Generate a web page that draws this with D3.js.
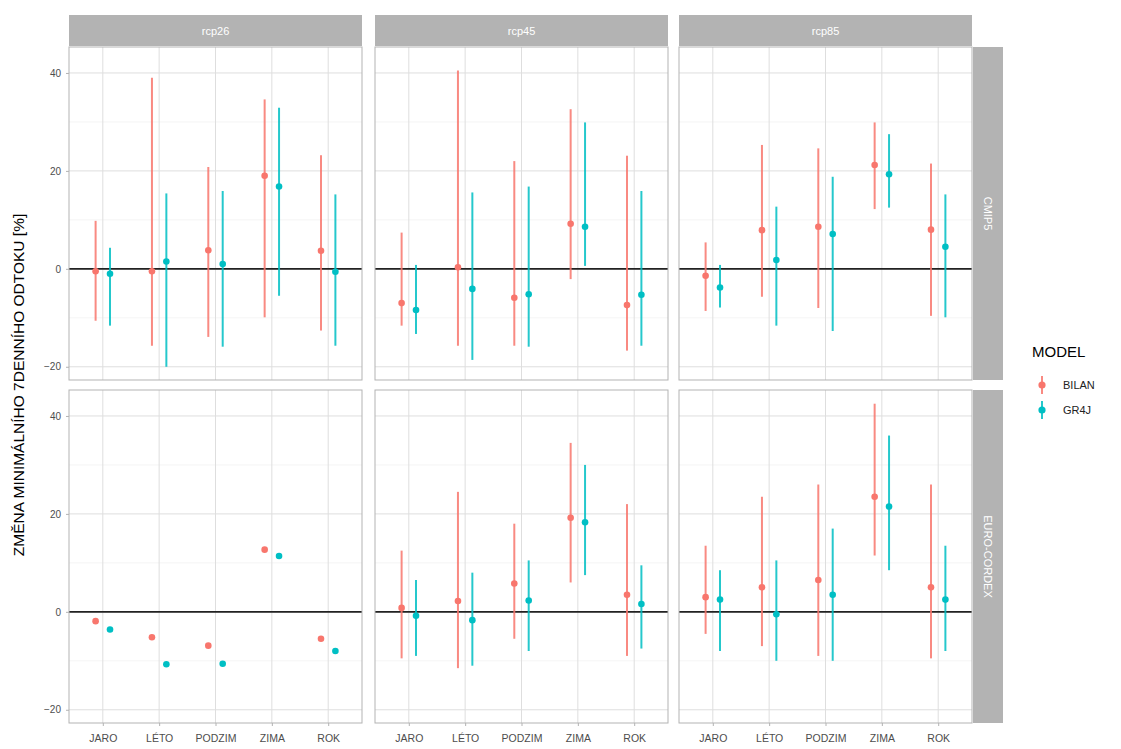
<!DOCTYPE html>
<html>
<head>
<meta charset="utf-8">
<script src="https://cdn.jsdelivr.net/npm/d3@7"></script>
<style>
  body { margin: 0; background: #fff; }
  text { font-family: "Liberation Sans", Arial, sans-serif; }
</style>
</head>
<body>
<svg id="canvas" width="1121" height="749"></svg>
<script>
// ---------------------------------------------------------------- data
var seasons = ["JARO", "LÉTO", "PODZIM", "ZIMA", "ROK"];
var scenarios = ["rcp26", "rcp45", "rcp85"];
var periods = ["CMIP5", "EURO-CORDEX"];
var models = ["BILAN", "GR4J"];
var model_colors = ["#F8766D", "#00BFC4"];
var y_ticks = [-20, 0, 20, 40];

// rows = period, cols = scenario, then model; each array follows seasons
var mid_vals = {
  "CMIP5": {
    rcp26: { BILAN: [-0.5, -0.5, 3.8, 19.0, 3.7], GR4J: [-1.0, 1.5, 1.0, 16.8, -0.6] },
    rcp45: { BILAN: [-7.0, 0.3, -5.9, 9.2, -7.4], GR4J: [-8.4, -4.1, -5.2, 8.6, -5.3] },
    rcp85: { BILAN: [-1.4, 7.9, 8.6, 21.2, 8.0], GR4J: [-3.8, 1.8, 7.1, 19.3, 4.5] }
  },
  "EURO-CORDEX": {
    rcp26: { BILAN: [-1.9, -5.2, -6.9, 12.7, -5.5], GR4J: [-3.6, -10.7, -10.6, 11.4, -8.0] },
    rcp45: { BILAN: [0.8, 2.2, 5.8, 19.2, 3.5], GR4J: [-0.8, -1.7, 2.3, 18.3, 1.6] },
    rcp85: { BILAN: [3.0, 5.0, 6.5, 23.5, 5.0], GR4J: [2.5, -0.5, 3.5, 21.5, 2.5] }
  }
};
var low_vals = {
  "CMIP5": {
    rcp26: { BILAN: [-10.6, -15.7, -13.9, -9.9, -12.6], GR4J: [-11.6, -20.0, -15.9, -5.5, -15.7] },
    rcp45: { BILAN: [-11.6, -15.7, -15.7, -2.1, -16.7], GR4J: [-13.3, -18.6, -15.9, 0.6, -15.7] },
    rcp85: { BILAN: [-8.6, -5.7, -8.0, 12.2, -9.6], GR4J: [-7.9, -11.6, -12.7, 12.5, -9.9] }
  },
  "EURO-CORDEX": {
    rcp26: { BILAN: [null, null, null, null, null], GR4J: [null, null, null, null, null] },
    rcp45: { BILAN: [-9.5, -11.5, -5.5, 6.0, -9.0], GR4J: [-9.0, -11.0, -8.0, 7.5, -7.5] },
    rcp85: { BILAN: [-4.5, -7.0, -9.0, 11.5, -9.5], GR4J: [-8.0, -10.0, -10.0, 8.5, -8.0] }
  }
};
var high_vals = {
  "CMIP5": {
    rcp26: { BILAN: [9.8, 39.0, 20.8, 34.6, 23.2], GR4J: [4.3, 15.4, 15.9, 32.9, 15.2] },
    rcp45: { BILAN: [7.4, 40.5, 22.0, 32.6, 23.1], GR4J: [0.8, 15.6, 16.8, 29.9, 15.9] },
    rcp85: { BILAN: [5.4, 25.3, 24.6, 29.9, 21.5], GR4J: [0.8, 12.7, 18.8, 27.5, 15.2] }
  },
  "EURO-CORDEX": {
    rcp26: { BILAN: [null, null, null, null, null], GR4J: [null, null, null, null, null] },
    rcp45: { BILAN: [12.5, 24.5, 18.0, 34.5, 22.0], GR4J: [6.5, 8.0, 10.5, 30.0, 9.5] },
    rcp85: { BILAN: [13.5, 23.5, 26.0, 42.5, 26.0], GR4J: [8.5, 10.5, 17.0, 36.0, 13.5] }
  }
};

// ---------------------------------------------------------------- layout
var svg = d3.select('#canvas');
var col_x = [69, 375, 679], panel_w = 293;
var row_y = [47, 390], panel_h = 333;
var strip_h = 32, rstrip_w = 30;
var font = '"Liberation Sans", Arial, sans-serif';

// discrete scale: 0.6 units expansion each side
var xScale = d3.scalePoint().domain(seasons).range([0, panel_w]).padding(0.6);
var yScale = d3.scaleLinear().domain([-22.7, 45.3]).range([panel_h, 0]);
var dodge = d3.scaleOrdinal().domain(models).range([-7.2, 7.2]);
var color = d3.scaleOrdinal().domain(models).range(model_colors);

// strips on top
scenarios.forEach((s, c) => {
  var g = svg.append('g').attr('transform', 'translate(' + col_x[c] + ',' + (row_y[0] - strip_h) + ')');
  g.append('rect').attr('width', panel_w).attr('height', strip_h - 1).attr('fill', '#B3B3B3');
  g.append('text').attr('x', panel_w / 2).attr('y', strip_h / 2 + 4).attr('text-anchor', 'middle')
    .attr('fill', '#fff').attr('font-size', 11).text(s);
});

periods.forEach((p, r) => {
  // right strip
  var gs = svg.append('g').attr('transform', 'translate(' + (col_x[2] + panel_w + 1) + ',' + row_y[r] + ')');
  gs.append('rect').attr('width', rstrip_w).attr('height', panel_h).attr('fill', '#B3B3B3');
  gs.append('text').attr('transform', 'translate(' + (rstrip_w / 2 - 4) + ',' + (panel_h / 2) + ') rotate(90)')
    .attr('text-anchor', 'middle').attr('fill', '#fff').attr('font-size', 11).text(p);

  scenarios.forEach((s, c) => {
    var g = svg.append('g').attr('transform', 'translate(' + col_x[c] + ',' + row_y[r] + ')');

    // minor grid
    [-10, 10, 30].forEach(v => {
      g.append('line').attr('x1', 0).attr('x2', panel_w).attr('y1', yScale(v)).attr('y2', yScale(v))
        .attr('stroke', '#EBEBEB').attr('stroke-width', 0.5);
    });
    // major grid
    y_ticks.forEach(v => {
      g.append('line').attr('x1', 0).attr('x2', panel_w).attr('y1', yScale(v)).attr('y2', yScale(v))
        .attr('stroke', '#DEDEDE').attr('stroke-width', 1);
    });
    seasons.forEach(k => {
      g.append('line').attr('x1', xScale(k)).attr('x2', xScale(k)).attr('y1', 0).attr('y2', panel_h)
        .attr('stroke', '#DEDEDE').attr('stroke-width', 1);
    });

    // zero line
    g.append('line').attr('x1', 0).attr('x2', panel_w).attr('y1', yScale(0)).attr('y2', yScale(0))
      .attr('stroke', '#222').attr('stroke-width', 1.6);

    // pointranges
    models.forEach(m => {
      var pts = seasons.map((k, i) => ({
        x: xScale(k) + dodge(m),
        mid: mid_vals[p][s][m][i],
        lo: low_vals[p][s][m][i],
        hi: high_vals[p][s][m][i]
      }));
      pts.filter(d => d.lo !== null).forEach(d => {
        g.append('line').attr('x1', d.x).attr('x2', d.x).attr('y1', yScale(d.lo)).attr('y2', yScale(d.hi))
          .attr('stroke', color(m)).attr('stroke-width', 2).attr('opacity', 0.85);
      });
      pts.forEach(d => {
        g.append('circle').attr('cx', d.x).attr('cy', yScale(d.mid)).attr('r', 3.3).attr('fill', color(m));
      });
    });

    // border
    g.append('rect').attr('width', panel_w).attr('height', panel_h).attr('fill', 'none')
      .attr('stroke', '#B3B3B3').attr('stroke-width', 1);

    // y axis on first column
    if (c === 0) {
      var ya = g.append('g').call(d3.axisLeft(yScale).tickValues(y_ticks).tickSize(3).tickPadding(5));
      ya.select('.domain').remove();
      ya.selectAll('line').attr('stroke', '#B3B3B3');
      ya.selectAll('text').attr('fill', '#4D4D4D').attr('font-size', 10).style('font-family', font);
    }
    // x axis on bottom row
    if (r === 1) {
      var xa = g.append('g').attr('transform', 'translate(0,' + panel_h + ')')
        .call(d3.axisBottom(xScale).tickSize(3).tickPadding(9));
      xa.select('.domain').remove();
      xa.selectAll('line').attr('stroke', '#B3B3B3');
      xa.selectAll('text').attr('fill', '#4D4D4D').attr('font-size', 10.5).style('font-family', font);
    }
  });
});

// y title
svg.append('text').attr('transform', 'translate(24,' + ((row_y[0] + row_y[1] + panel_h) / 2) + ') rotate(-90)')
  .attr('text-anchor', 'middle').attr('font-size', 15.5).attr('fill', '#000')
  .text('ZMĚNA MINIMÁLNÍHO 7DENNÍHO ODTOKU [%]');

// legend
var leg = svg.append('g').attr('transform', 'translate(1032,352)');
leg.append('text').attr('x', 0).attr('y', 5).attr('font-size', 15).attr('fill', '#000').text('MODEL');
models.forEach((m, i) => {
  var ky = 33 + i * 25;
  leg.append('line').attr('x1', 10).attr('x2', 10).attr('y1', ky - 9).attr('y2', ky + 9)
    .attr('stroke', color(m)).attr('stroke-width', 2).attr('opacity', 0.85);
  leg.append('circle').attr('cx', 10).attr('cy', ky).attr('r', 3.6).attr('fill', color(m));
  leg.append('text').attr('x', 31).attr('y', ky + 4).attr('font-size', 11).attr('fill', '#222').text(m);
});
</script>
</body>
</html>
